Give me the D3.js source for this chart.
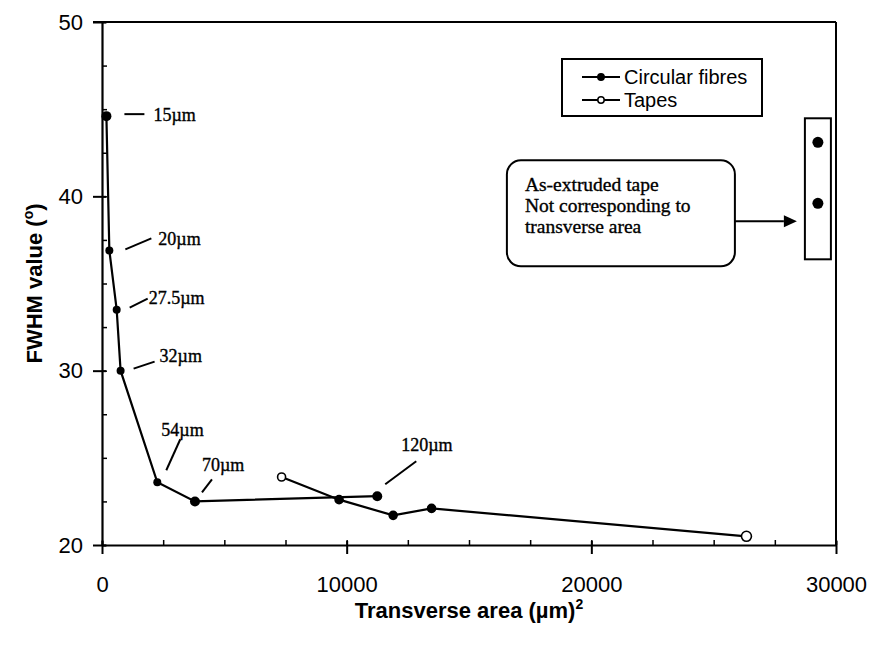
<!DOCTYPE html>
<html>
<head>
<meta charset="utf-8">
<script src="https://cdn.jsdelivr.net/npm/d3@7"></script>
<style>
  body { margin: 0; background: #fff; }
  svg { display: block; }
  .tick text { font-family: "Liberation Sans", Arial, sans-serif; font-size: 22px; fill: #000; }
  .lbl { font-family: "Liberation Serif", "Times New Roman", serif; font-size: 18px; stroke: #000; stroke-width: 0.35px; }
</style>
</head>
<body>
<svg id="chart" width="872" height="645"></svg>
<script>
// circular fibres (diameter labels)
const fibreArea = [180, 300, 600, 760, 2260, 3800, 11250]
const fibreFwhm = [44.6, 36.9, 33.5, 30.0, 23.6, 22.5, 22.8]
const fibreLabels = ["15\u00b5m", "20\u00b5m", "27.5\u00b5m", "32\u00b5m", "54\u00b5m", "70\u00b5m", "120\u00b5m"]
// tapes
const tapeArea = [7340, 9690, 11900, 13470, 26340]
const tapeFwhm = [23.9, 22.6, 21.7, 22.1, 20.5]
// as-extruded tape, plotted off to the right
const extrudedArea = [29260, 29260]
const extrudedFwhm = [43.1, 39.6]

const xTicks = [0, 10000, 20000, 30000]
const yTicks = [20, 30, 40, 50]
const xMinor = d3.range(0, 30001, 2500)
const yMinor = d3.range(20, 50.1, 2.5)

// where each diameter label sits relative to its point: leader line then text
const labelPos = [
    { l: [18, -2, 38, -2], t: [47, 5] },
    { l: [16, -1, 42, -12], t: [49, -5] },
    { l: [13, -2, 31, -11], t: [32, -6] },
    { l: [13, -2, 34, -9], t: [39, -9] },
    { l: [9, -12, 23, -43], t: [4, -46] },
    { l: [7, -9, 17, -22], t: [7, -30] },
    { l: [8, -12, 39, -35], t: [24, -45] }
]

const svg = d3.select("#chart")
const margin = { top: 22, right: 36, bottom: 100, left: 102 }
const width = 872 - margin.left - margin.right
const height = 645 - margin.top - margin.bottom

const x = d3.scaleLinear().domain([0, 30000]).range([0, width])
const y = d3.scaleLinear().domain([20, 50]).range([height, 0])

const g = svg.append("g").attr("transform", `translate(${margin.left},${margin.top})`)

// frame (top + right)
g.append("line").attr("x1", -9).attr("x2", width).attr("y1", 0).attr("y2", 0)
    .attr("stroke", "#000").attr("stroke-width", 2)
g.append("line").attr("x1", width).attr("x2", width).attr("y1", 0).attr("y2", height)
    .attr("stroke", "#000").attr("stroke-width", 2)

// minor ticks, pointing inward
g.append("g").attr("transform", `translate(0,${height})`)
    .call(d3.axisBottom(x).tickValues(xMinor).tickSize(-5).tickFormat(""))
    .call(a => a.select(".domain").remove())
    .selectAll("line").attr("stroke-width", 1.5)
g.append("g")
    .call(d3.axisLeft(y).tickValues(yMinor).tickSize(-5).tickFormat(""))
    .call(a => a.select(".domain").remove())
    .selectAll("line").attr("stroke-width", 1.5)

// major axes
const xAxis = g.append("g").attr("transform", `translate(0,${height})`)
    .call(d3.axisBottom(x).tickValues(xTicks).tickSize(9).tickSizeOuter(0).tickPadding(22).tickFormat(d3.format("d")))
xAxis.selectAll(".tick line").attr("y1", -4).attr("stroke-width", 2)
xAxis.select(".domain").attr("stroke-width", 2.2)

const yAxis = g.append("g")
    .call(d3.axisLeft(y).tickValues(yTicks).tickSize(9).tickSizeOuter(0).tickPadding(10))
yAxis.selectAll(".tick line").attr("x1", 4).attr("stroke-width", 2)
yAxis.select(".domain").attr("stroke-width", 2.2)

// axis titles
svg.append("text")
    .attr("x", margin.left + width / 2).attr("y", 618)
    .attr("text-anchor", "middle")
    .style("font-family", "'Liberation Sans', Arial, sans-serif")
    .style("font-size", "22px").style("font-weight", "bold")
    .text("Transverse area (\u00b5m)")
    .append("tspan").attr("dy", -9).style("font-size", "14px").text("2")

const yt = svg.append("text")
    .attr("transform", `translate(42,${margin.top + height / 2}) rotate(-90)`)
    .attr("text-anchor", "middle")
    .style("font-family", "'Liberation Sans', Arial, sans-serif")
    .style("font-size", "22px").style("font-weight", "bold")
yt.append("tspan").text("FWHM value (")
yt.append("tspan").attr("dy", -9).style("font-size", "14px").text("o")
yt.append("tspan").attr("dy", 9).text(")")

const line = d3.line().x(d => x(d[0])).y(d => y(d[1]))
const fibres = fibreArea.map((a, i) => [a, fibreFwhm[i]])
const tapes = tapeArea.map((a, i) => [a, tapeFwhm[i]])

g.append("path").datum(fibres).attr("d", line)
    .attr("fill", "none").attr("stroke", "#000").attr("stroke-width", 2.2)
g.append("path").datum(tapes).attr("d", line)
    .attr("fill", "none").attr("stroke", "#000").attr("stroke-width", 2.2)

g.selectAll(".fib").data(fibres).join("circle")
    .attr("cx", d => x(d[0])).attr("cy", d => y(d[1]))
    .attr("r", (d, i) => (i === 0 || i >= 5) ? 5 : 4)
    .attr("fill", "#000")
g.selectAll(".tap").data(tapes).join("circle")
    .attr("cx", d => x(d[0])).attr("cy", d => y(d[1]))
    .attr("r", (d, i) => i === tapes.length - 1 ? 5 : 4)
    .attr("fill", (d, i) => (i === 0 || i === tapes.length - 1) ? "#fff" : "#000")
    .attr("stroke", "#000").attr("stroke-width", 1.6)

// diameter labels with leader lines
fibres.forEach((d, i) => {
    const px = x(d[0]), py = y(d[1]), p = labelPos[i]
    g.append("line")
        .attr("x1", px + p.l[0]).attr("y1", py + p.l[1])
        .attr("x2", px + p.l[2]).attr("y2", py + p.l[3])
        .attr("stroke", "#000").attr("stroke-width", 2)
    g.append("text").attr("class", "lbl")
        .attr("x", px + p.t[0]).attr("y", py + p.t[1])
        .text(fibreLabels[i])
})

// as-extruded points in their own box
const ex = extrudedArea.map((a, i) => [a, extrudedFwhm[i]])
const exX = x(extrudedArea[0])
const exTop = y(d3.max(extrudedFwhm)), exBot = y(d3.min(extrudedFwhm))
g.append("rect")
    .attr("x", exX - 13).attr("y", exTop - 24)
    .attr("width", 26).attr("height", exBot - exTop + 80)
    .attr("fill", "#fff").attr("stroke", "#000").attr("stroke-width", 2)
g.selectAll(".ext").data(ex).join("circle")
    .attr("cx", d => x(d[0])).attr("cy", d => y(d[1]))
    .attr("r", 5.5).attr("fill", "#000")

// callout box + arrow
const boxR = exX - 83, boxW = 228, boxTop = exTop + 18, boxH = 106
g.append("rect")
    .attr("x", boxR - boxW).attr("y", boxTop).attr("width", boxW).attr("height", boxH)
    .attr("rx", 14).attr("fill", "#fff").attr("stroke", "#000").attr("stroke-width", 2)
const notes = ["As-extruded tape", "Not corresponding to", "transverse area"]
g.selectAll(".note").data(notes).join("text").attr("class", "lbl")
    .attr("x", boxR - boxW + 18).attr("y", (d, i) => boxTop + 31 + i * 21)
    .style("font-size", "19.5px")
    .text(d => d)
const arrowY = boxTop + 61
g.append("line").attr("x1", boxR).attr("x2", exX - 34).attr("y1", arrowY).attr("y2", arrowY)
    .attr("stroke", "#000").attr("stroke-width", 2)
g.append("path")
    .attr("d", `M${exX - 34},${arrowY - 6}L${exX - 21},${arrowY}L${exX - 34},${arrowY + 6}Z`)
    .attr("fill", "#000")

// legend
const legend = g.append("g").attr("transform", `translate(${460},${37})`)
legend.append("rect").attr("width", 200).attr("height", 57)
    .attr("fill", "#fff").attr("stroke", "#000").attr("stroke-width", 2)
const items = [{ name: "Circular fibres", fill: "#000" }, { name: "Tapes", fill: "#fff" }]
items.forEach((it, i) => {
    const ly = 18 + i * 23
    legend.append("line").attr("x1", 20).attr("x2", 58).attr("y1", ly).attr("y2", ly)
        .attr("stroke", "#000").attr("stroke-width", 2)
    legend.append("circle").attr("cx", 39).attr("cy", ly).attr("r", 3.2)
        .attr("fill", it.fill).attr("stroke", "#000").attr("stroke-width", 1.5)
    legend.append("text").attr("x", 62).attr("y", ly + 7)
        .style("font-family", "'Liberation Sans', Arial, sans-serif").style("font-size", "20px")
        .text(it.name)
})
</script>
</body>
</html>
